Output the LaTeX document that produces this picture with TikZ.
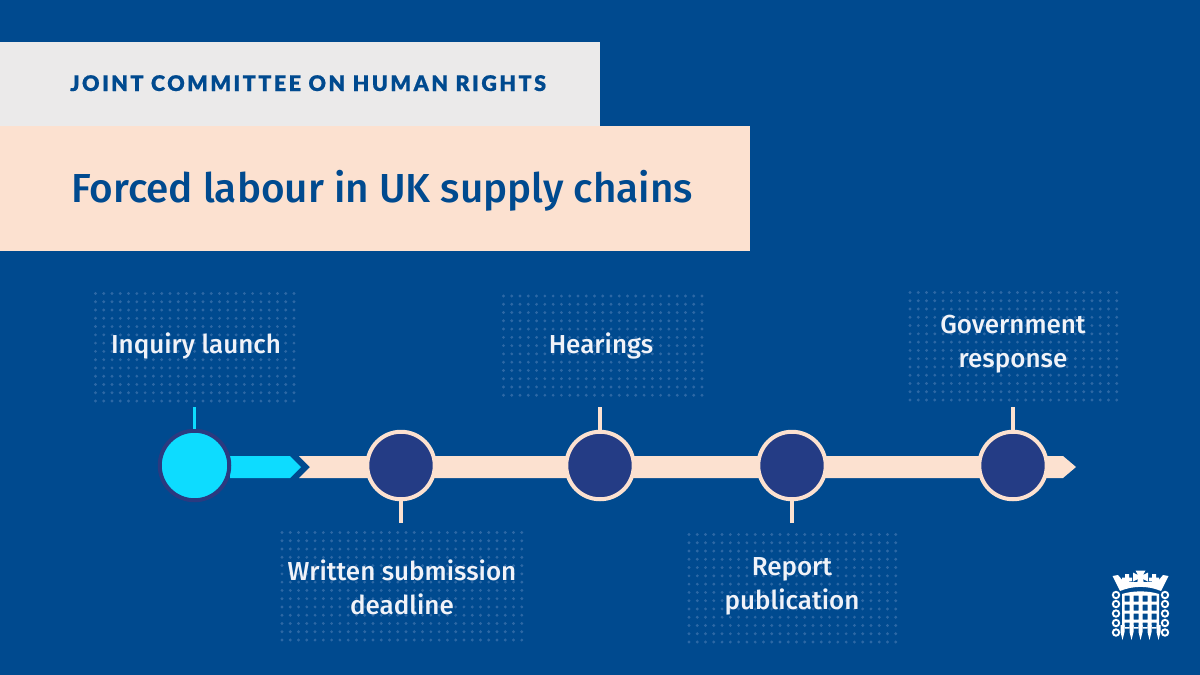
\documentclass[tikz,border=0pt]{standalone}
\usepackage{fontspec}
\setmainfont{Fira Sans}
\newfontfamily\headfont[LetterSpace=11.6,FakeBold=0.6]{Lato Black}
\newfontfamily\titlefont{Fira Sans}[UprightFont={* Medium}]
\definecolor{bgblue}{RGB}{0,74,143}
\definecolor{greyband}{RGB}{235,234,234}
\definecolor{peach}{RGB}{252,225,208}
\definecolor{cyanish}{RGB}{13,220,255}
\definecolor{navy}{RGB}{36,60,133}
\definecolor{ringdark}{RGB}{42,58,128}
\definecolor{dotc}{RGB}{45,104,165}
\definecolor{labelc}{RGB}{240,242,248}
\tikzset{
  milestone/.style={circle,draw=peach,fill=navy,line width=4pt,minimum size=67.5pt,inner sep=0pt,outer sep=0pt},
  startmile/.style={circle,draw=ringdark,fill=cyanish,line width=4pt,minimum size=69.5pt,inner sep=0pt,outer sep=0pt},
  stem/.style={draw=peach,line width=3.5pt},
  cyanstem/.style={draw=cyanish,line width=3.5pt},
  lab/.style={font=\titlefont\fontsize{26}{34}\selectfont,text=labelc,align=center,inner sep=0pt},
}
\newcommand{\dotpanel}[4]{%
  \fill[dotc] foreach \xx in {0,...,#3} {foreach \yy in {0,...,#4} {(#1+\xx*8.27,#2+\yy*8.27) circle[radius=1.6]}};%
}
\begin{document}
\begin{tikzpicture}[x=1pt,y=-1pt]
\useasboundingbox (0,0) rectangle (1200,675);
\fill[bgblue] (0,0) rectangle (1200,675);
\fill[greyband] (0,42) rectangle (600,126);
\fill[peach] (0,126) rectangle (750,251);
\node[anchor=base west,inner sep=0pt,text=bgblue,font=\headfont\fontsize{21.5}{26}\selectfont] (head) at (70,91) {JOINT COMMITTEE ON HUMAN RIGHTS};
\node[anchor=base west,inner sep=0pt,text=bgblue,font=\titlefont\fontsize{40.5}{46}\selectfont] (title) at (71,202) {Forced labour in UK supply chains};
% dot panels
\dotpanel{95.5}{293.5}{24}{13}
\dotpanel{282}{532.5}{29}{13}
\dotpanel{503.5}{296}{24}{12}
\dotpanel{689}{534.5}{25}{13}
\dotpanel{910}{292.5}{25}{13}
% labels
\node[lab] (l1) at (196,346) {Inquiry launch};
\node[lab] (l2) at (402,587) {Written submission\\deadline};
\node[lab] (l3) at (601,346) {Hearings};
\node[lab] (l4) at (792,586) {Report\\publication};
\node[lab] (l5) at (1013,344.5) {Government\\response};
% timeline
\fill[peach] (299,456) -- (1063,456) -- (1076,467) -- (1063,478) -- (299,478) -- (310,467) -- cycle;
\fill[cyanish] (230,456) -- (290,456) -- (301,467) -- (290,478) -- (230,478) -- cycle;
% milestones
\node[startmile] (m1) at (194.5,465.5) {};
\node[milestone] (m2) at (401,465.5) {};
\node[milestone] (m3) at (600,465.5) {};
\node[milestone] (m4) at (792,465.5) {};
\node[milestone] (m5) at (1013,465.5) {};
\coordinate (s1) at (194.5,407);
\coordinate (s2) at (401,523);
\coordinate (s3) at (600,407);
\coordinate (s4) at (792,523);
\coordinate (s5) at (1013,407);
\draw[cyanstem] (m1) ++(0,-37) -- (s1);
\draw[stem] (m2.south) -- (s2);
\draw[stem] (m3.north) -- (s3);
\draw[stem] (m4.south) -- (s4);
\draw[stem] (m5.north) -- (s5);
% logo: crown
\fill[white] (1112.5,576) -- (1118,575) -- (1123,581) -- (1134,582) -- (1147,582) -- (1158,581) -- (1163,575) -- (1168.5,576) -- (1161,591) .. controls (1148,585.5) and (1133,585.5) .. (1120,591) -- cycle;
\fill[white] (1135.5,570.5) -- (1145.5,570.5) -- (1143,575) -- (1148,572.5) -- (1148,581.5) -- (1143,579) -- (1144.5,586) -- (1136.5,586) -- (1138,579) -- (1133,581.5) -- (1133,572.5) -- (1138,575) -- cycle;
\fill[white] (1125,574) rectangle (1129,585) (1122,577.5) rectangle (1132,581);
\fill[white] (1152,574) rectangle (1156,585) (1149,577.5) rectangle (1159,581);
% logo: chains
\draw[white,line width=1.9pt] foreach \cy in {595,604,613.5,623,632.5} {(1116,\cy) circle[radius=3.2] (1165,\cy) circle[radius=3.2]};
% logo: portcullis
\fill[white,even odd rule] (1122,594) .. controls (1133,590.5) and (1148,590.5) .. (1159,594) -- (1159,627) -- (1122,627) -- cycle
 foreach \wx in {1124.5,1133.5,1142.5,1151.5} {foreach \wy in {595.5,604.5,613.5} {(\wx,\wy) rectangle ++(5,6)}}
 foreach \wx in {1124.5,1133.5,1142.5,1151.5} {(\wx,622.5) rectangle ++(5,6)};
\fill[white] foreach \sx in {1122.5,1131.5,1140.5,1149.5,1158.5} {(\sx-2,625) -- (\sx+2,625) -- (\sx+2,632) -- (\sx,640) -- (\sx-2,632) -- cycle};
\end{tikzpicture}
\end{document}
